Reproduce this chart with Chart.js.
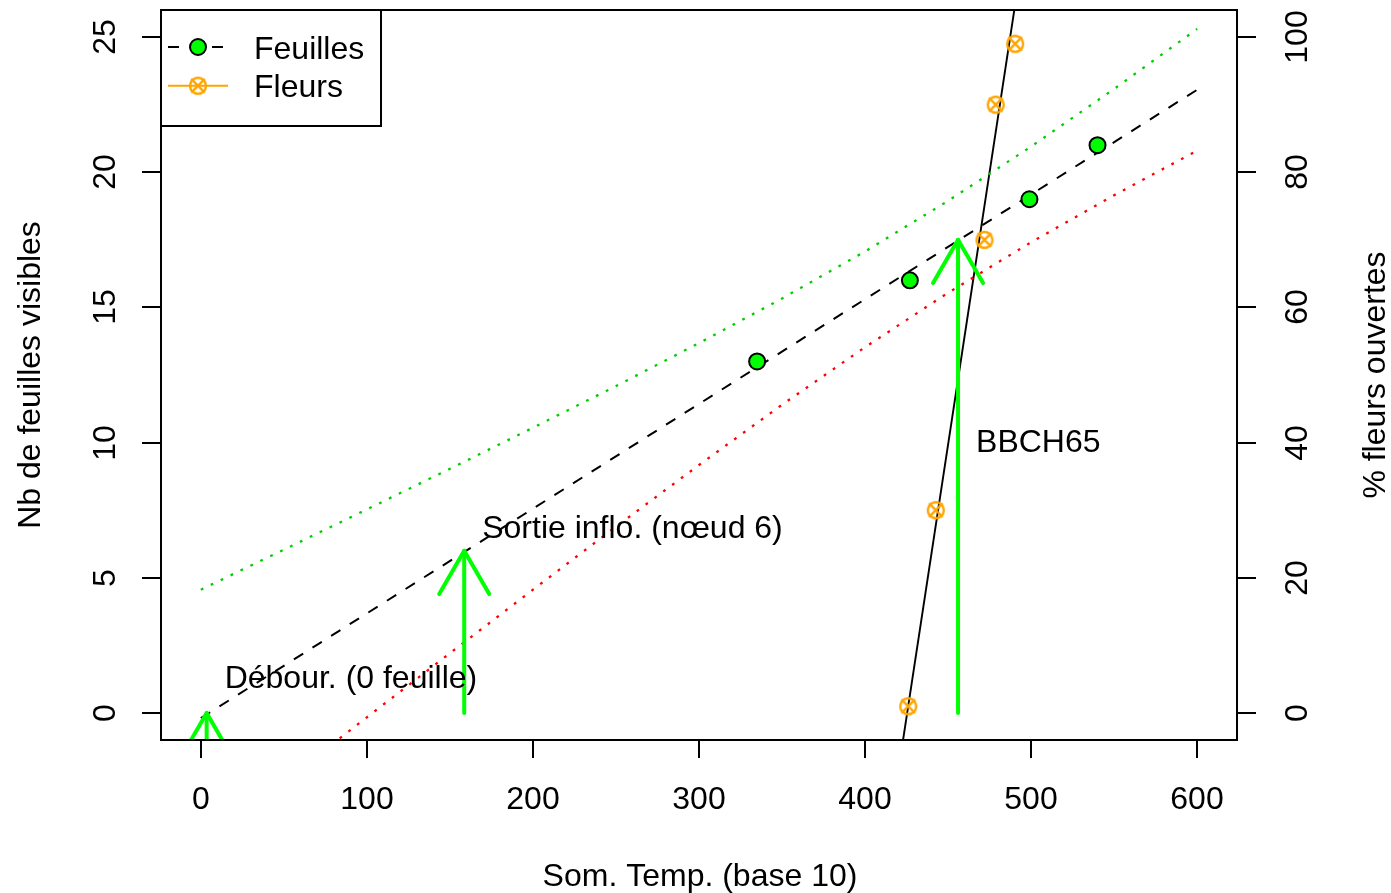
<!DOCTYPE html>
<html>
<head>
<meta charset="utf-8">
<script src="https://cdn.jsdelivr.net/npm/chart.js@4/dist/chart.umd.min.js"></script>
<style>
  html, body { margin: 0; padding: 0; background: #ffffff; }
  canvas { display: block; }
</style>
</head>
<body>
<canvas id="chart" width="1391" height="893"></canvas>
<script>
// Observed leaf counts against thermal time (base 10)
const leafTT = [335, 427, 499, 540];
const leafCount = [13, 16, 19, 21];

// Observed open-flower percentages against thermal time
const flowerTT = [426, 442.6, 471.9, 478.7, 490.4];
const flowerPct = [1, 30, 70, 90, 99];

// Fitted leaf appearance line and its prediction band
const fitTT = [0, 600];
const fitLeaves = [-0.19, 23.05];
const bandTT = [0, 50, 100, 150, 200, 250, 300, 350, 400, 450, 500, 550, 600];
const bandUpper = [4.56, 6.04, 7.53, 9.03, 10.55, 12.09, 13.68, 15.33, 17.07, 18.94, 20.95, 23.08, 25.30];
const bandLower = [-4.94, -2.54, -0.16, 2.21, 4.56, 6.89, 9.17, 11.40, 13.53, 15.54, 17.41, 19.15, 20.80];

// Fitted flowering line (percent scale)
const flowerFitTT = [415, 500];
const flowerFitPct = [-16.7, 120.3];

// Phenological stages marked with arrows
const stageTT = [3.5, 158.6, 456];
const stageFrom = [-3, 0, 0];
const stageTo = [0, 6, 17.5];
const stageLabels = ["Débour. (0 feuille)", "Sortie inflo. (nœud 6)", "BBCH65"];
const stageLabelY = [1.35, 6.88, 10.07];

// Axis ticks
const xTicks = [0, 100, 200, 300, 400, 500, 600];
const leftTicks = [0, 5, 10, 15, 20, 25];
const rightTicks = [0, 20, 40, 60, 80, 100];

const FONT = '32px "Liberation Sans", Arial, Helvetica, sans-serif';
const GREEN = '#00FF00';
const ORANGE = '#FFA500';

const toXY = (xs, ys) => xs.map((x, i) => ({ x: x, y: ys[i] }));

// Circle with a cross, used for the flowering observations
function makeCircleCross(size, r, arm, color, lw) {
  const c = document.createElement('canvas');
  c.width = size; c.height = size;
  const g = c.getContext('2d');
  const m = size / 2;
  g.strokeStyle = color;
  g.lineWidth = lw;
  g.beginPath();
  g.arc(m, m, r, 0, Math.PI * 2);
  g.stroke();
  g.beginPath();
  g.moveTo(m - arm, m - arm); g.lineTo(m + arm, m + arm);
  g.moveTo(m + arm, m - arm); g.lineTo(m - arm, m + arm);
  g.stroke();
  return c;
}
const flowerSymbol = makeCircleCross(26, 8.0, 6.8, ORANGE, 2.4);

function drawArrowHead(ctx, x0, y0, x1, y1, len) {
  const ang = Math.atan2(y1 - y0, x1 - x0);
  const spread = Math.PI / 6;
  ctx.beginPath();
  ctx.moveTo(x1 - len * Math.cos(ang - spread), y1 - len * Math.sin(ang - spread));
  ctx.lineTo(x1, y1);
  ctx.lineTo(x1 - len * Math.cos(ang + spread), y1 - len * Math.sin(ang + spread));
  ctx.stroke();
}

const decorPlugin = {
  id: 'decor',
  afterDatasetsDraw(chart) {
    const ctx = chart.ctx;
    const xs = chart.scales.x, ys = chart.scales.y;
    const a = chart.chartArea;
    ctx.save();
    ctx.beginPath();
    ctx.rect(a.left, a.top, a.right - a.left, a.bottom - a.top);
    ctx.clip();
    // stage arrows
    ctx.strokeStyle = GREEN;
    ctx.lineWidth = 4;
    ctx.lineCap = 'round';
    ctx.lineJoin = 'round';
    stageTT.forEach((t, i) => {
      const px = xs.getPixelForValue(t);
      const p0 = ys.getPixelForValue(stageFrom[i]);
      const p1 = ys.getPixelForValue(stageTo[i]);
      ctx.beginPath();
      ctx.moveTo(px, p0);
      ctx.lineTo(px, p1);
      ctx.stroke();
      drawArrowHead(ctx, px, p0, px, p1, 50);
    });
    ctx.restore();

    // stage labels
    ctx.save();
    ctx.font = FONT;
    ctx.fillStyle = '#000';
    ctx.textAlign = 'left';
    ctx.textBaseline = 'alphabetic';
    stageLabels.forEach((lab, i) => {
      const px = xs.getPixelForValue(stageTT[i]);
      const py = ys.getPixelForValue(stageLabelY[i]);
      ctx.fillText(lab, px + 18, py + 11.5);
    });
    ctx.restore();
  },
  afterDraw(chart) {
    const ctx = chart.ctx;
    const a = chart.chartArea;
    const xs = chart.scales.x, ys = chart.scales.y, y2 = chart.scales.y2;
    ctx.save();
    ctx.strokeStyle = '#000';
    ctx.fillStyle = '#000';
    ctx.lineWidth = 2;
    ctx.lineCap = 'butt';
    // plot frame
    ctx.strokeRect(a.left, a.top, a.right - a.left, a.bottom - a.top);

    // bottom axis
    ctx.font = FONT;
    ctx.textAlign = 'center';
    ctx.textBaseline = 'alphabetic';
    xTicks.forEach(t => {
      const px = Math.round(xs.getPixelForValue(t));
      ctx.beginPath();
      ctx.moveTo(px, a.bottom);
      ctx.lineTo(px, a.bottom + 18);
      ctx.stroke();
      ctx.fillText(String(t), px, 809);
    });
    ctx.fillText('Som. Temp. (base 10)', 700, 886);

    // left axis
    leftTicks.forEach(t => {
      const py = Math.round(ys.getPixelForValue(t));
      ctx.beginPath();
      ctx.moveTo(a.left, py);
      ctx.lineTo(a.left - 19, py);
      ctx.stroke();
      ctx.save();
      ctx.translate(115, py);
      ctx.rotate(-Math.PI / 2);
      ctx.fillText(String(t), 0, 0);
      ctx.restore();
    });
    ctx.save();
    ctx.translate(40, (a.top + a.bottom) / 2);
    ctx.rotate(-Math.PI / 2);
    ctx.fillText('Nb de feuilles visibles', 0, 0);
    ctx.restore();

    // right axis
    rightTicks.forEach(t => {
      const py = Math.round(y2.getPixelForValue(t));
      ctx.beginPath();
      ctx.moveTo(a.right, py);
      ctx.lineTo(a.right + 19, py);
      ctx.stroke();
      ctx.save();
      ctx.translate(1307, py);
      ctx.rotate(-Math.PI / 2);
      ctx.fillText(String(t), 0, 0);
      ctx.restore();
    });
    ctx.save();
    ctx.translate(1385, (a.top + a.bottom) / 2);
    ctx.rotate(-Math.PI / 2);
    ctx.fillText('% fleurs ouvertes', 0, 0);
    ctx.restore();

    // legend
    const lx = a.left, ly = a.top;
    ctx.strokeRect(lx, ly, 220, 116);
    const rows = [47, 85.7];
    // Feuilles: dashed line with filled point
    ctx.save();
    ctx.lineWidth = 2;
    ctx.setLineDash([11, 11]);
    ctx.beginPath();
    ctx.moveTo(168, rows[0]);
    ctx.lineTo(228, rows[0]);
    ctx.stroke();
    ctx.restore();
    ctx.beginPath();
    ctx.arc(198, rows[0], 8, 0, Math.PI * 2);
    ctx.fillStyle = GREEN;
    ctx.fill();
    ctx.lineWidth = 2;
    ctx.strokeStyle = '#000';
    ctx.stroke();
    // Fleurs: solid orange line with circle-cross
    ctx.strokeStyle = ORANGE;
    ctx.lineWidth = 2;
    ctx.beginPath();
    ctx.moveTo(168, rows[1]);
    ctx.lineTo(228, rows[1]);
    ctx.stroke();
    ctx.drawImage(flowerSymbol, 198 - flowerSymbol.width / 2, rows[1] - flowerSymbol.height / 2);
    ctx.fillStyle = '#000';
    ctx.textAlign = 'left';
    ctx.fillText('Feuilles', 254, rows[0] + 11.5);
    ctx.fillText('Fleurs', 254, rows[1] + 11.5);
    ctx.restore();
  }
};

new Chart(document.getElementById('chart'), {
  type: 'scatter',
  data: {
    datasets: [
      {
        label: 'Feuilles',
        data: toXY(leafTT, leafCount),
        yAxisID: 'y',
        showLine: false,
        pointRadius: 8,
        pointHoverRadius: 8,
        backgroundColor: GREEN,
        borderColor: '#000000',
        borderWidth: 2
      },
      {
        label: 'Fleurs',
        data: toXY(flowerTT, flowerPct),
        yAxisID: 'y2',
        showLine: false,
        pointStyle: flowerSymbol,
        pointRadius: 9,
        backgroundColor: ORANGE,
        borderColor: ORANGE
      },
      {
        label: 'Ajustement feuilles',
        data: toXY(fitTT, fitLeaves),
        yAxisID: 'y',
        showLine: true,
        pointRadius: 0,
        borderColor: '#000000',
        borderWidth: 2,
        borderDash: [11, 11],
        clip: 0
      },
      {
        label: 'Borne haute',
        data: toXY(bandTT, bandUpper),
        yAxisID: 'y',
        showLine: true,
        pointRadius: 0,
        borderColor: '#00CD00',
        borderWidth: 2.3,
        borderDash: [2.75, 8.25],
        clip: 0
      },
      {
        label: 'Borne basse',
        data: toXY(bandTT, bandLower),
        yAxisID: 'y',
        showLine: true,
        pointRadius: 0,
        borderColor: '#FF0000',
        borderWidth: 2.3,
        borderDash: [2.75, 8.25],
        clip: 0
      },
      {
        label: 'Ajustement fleurs',
        data: toXY(flowerFitTT, flowerFitPct),
        yAxisID: 'y2',
        showLine: true,
        pointRadius: 0,
        borderColor: '#000000',
        borderWidth: 1.9,
        clip: 0
      }
    ]
  },
  options: {
    responsive: false,
    animation: false,
    devicePixelRatio: 1,
    layout: { padding: { left: 161, right: 154, top: 8, bottom: 153 } },
    plugins: { legend: { display: false }, tooltip: { enabled: false }, title: { display: false } },
    events: [],
    scales: {
      x: { type: 'linear', min: -24, max: 624, display: false },
      y: { type: 'linear', min: -1, max: 26, display: false },
      y2: { type: 'linear', min: -4, max: 104, display: false, position: 'right' }
    }
  },
  plugins: [decorPlugin]
});
</script>
</body>
</html>
